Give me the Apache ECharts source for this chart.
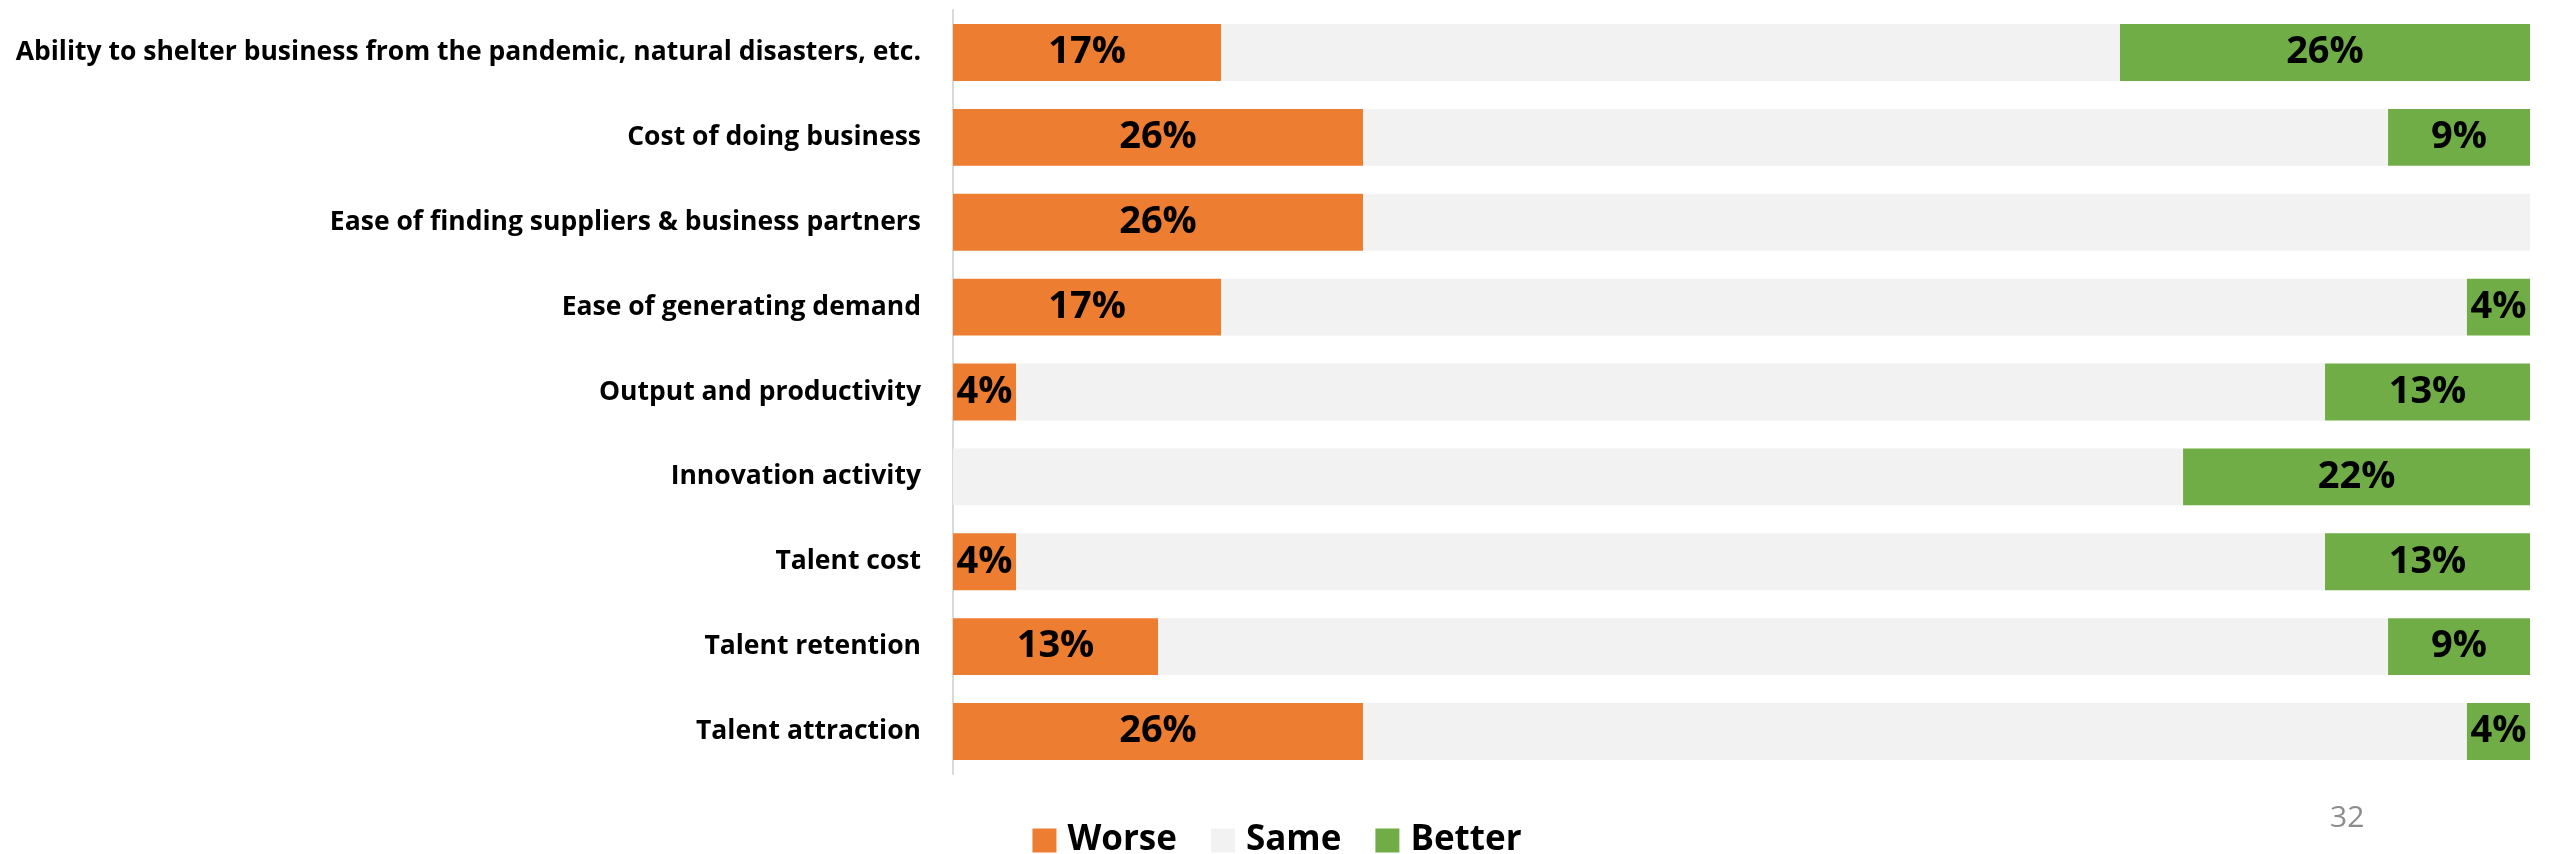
<!DOCTYPE html>
<html>
<head>
<meta charset="utf-8">
<script src="https://cdn.jsdelivr.net/npm/echarts@6/dist/echarts.min.js"></script>
<style>
  html, body { margin: 0; padding: 0; background: #ffffff; }
  #chart { width: 2554px; height: 854px; }
</style>
</head>
<body>
<div id="chart"></div>
<script>
// Survey factors, listed top to bottom
const categories = [
  'Ability to shelter business from the pandemic, natural disasters, etc.',
  'Cost of doing business',
  'Ease of finding suppliers & business partners',
  'Ease of generating demand',
  'Output and productivity',
  'Innovation activity',
  'Talent cost',
  'Talent retention',
  'Talent attraction'
];
const seriesNames = ['Worse', 'Same', 'Better'];
// Share of respondents (%) answering each way
const worse  = [17, 26, 26, 17, 4, 0, 4, 13, 26];
const better = [26, 9, 0, 4, 13, 22, 13, 9, 4];
const same   = [57, 65, 74, 79, 83, 78, 83, 78, 70];
const pageNumber = '32';

const labelFont = "'Open Sans', sans-serif";

const chart = echarts.init(document.getElementById('chart'), null, { renderer: 'canvas' });

const valueLabel = {
  show: true,
  position: 'inside',
  color: '#000000',
  fontFamily: labelFont,
  fontWeight: 'bold',
  fontSize: 38,
  formatter: p => (p.value ? p.value + '%' : '')
};

chart.setOption({
  animation: false,
  backgroundColor: '#ffffff',
  grid: { left: 953, right: 24, top: 10, bottom: 80, containLabel: false, outerBoundsMode: 'none' },
  xAxis: {
    type: 'value', min: 0, max: 100, show: false
  },
  yAxis: {
    type: 'category',
    inverse: true,
    data: categories,
    axisLine: { show: true, lineStyle: { color: '#d9d9d9', width: 2 } },
    axisTick: { show: false },
    splitLine: { show: false },
    axisLabel: {
      margin: 32,
      color: '#000000',
      fontFamily: labelFont,
      fontWeight: 'bold',
      fontSize: 26.5
    }
  },
  legend: {
    data: seriesNames,
    left: 'center',
    top: 818,
    itemWidth: 24,
    itemHeight: 24,
    itemGap: 34,
    icon: 'rect',
    textStyle: {
      color: '#000000',
      fontFamily: labelFont,
      fontWeight: 'bold',
      fontSize: 35,
      padding: [0, 0, 0, 6]
    }
  },
  series: [
    {
      name: 'Worse', type: 'bar', stack: 'total', data: worse,
      barCategoryGap: '33%',
      itemStyle: { color: '#ED7D31' },
      label: valueLabel
    },
    {
      name: 'Same', type: 'bar', stack: 'total', data: same,
      itemStyle: { color: '#F2F2F2' },
      label: { show: false }
    },
    {
      name: 'Better', type: 'bar', stack: 'total', data: better,
      itemStyle: { color: '#70AD47' },
      label: valueLabel
    }
  ],
  graphic: [
    {
      type: 'text',
      left: 2330,
      top: 803,
      style: {
        text: pageNumber,
        fill: '#8c8c8c',
        font: "30px 'Open Sans', sans-serif"
      }
    }
  ]
});
</script>
</body>
</html>
